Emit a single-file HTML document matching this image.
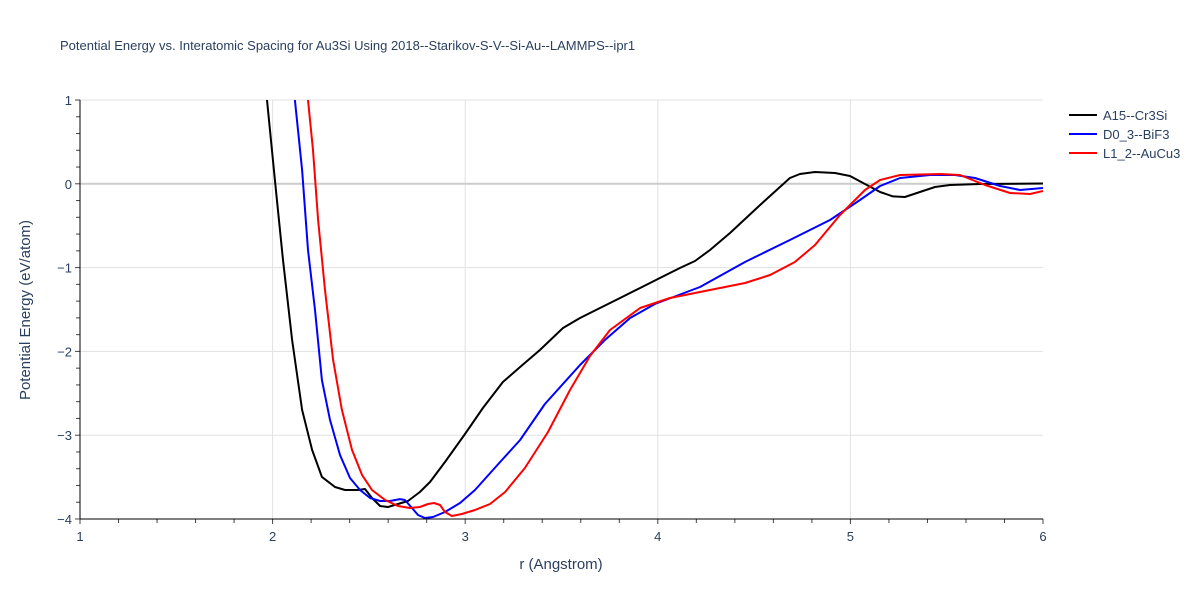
<!DOCTYPE html>
<html><head><meta charset="utf-8">
<style>
body{margin:0;background:#fff;font-family:"Liberation Sans",sans-serif;}
svg text{font-family:"Liberation Sans",sans-serif;}
</style></head>
<body>
<svg id="chart" width="1200" height="600" xmlns="http://www.w3.org/2000/svg">
<rect width="1200" height="600" fill="#fff"/>
<text x="60" y="50" font-size="13" fill="#2a3f5f">Potential Energy vs. Interatomic Spacing for Au3Si Using 2018--Starikov-S-V--Si-Au--LAMMPS--ipr1</text>
<defs><clipPath id="clip"><rect x="80" y="100" width="963" height="419"/></clipPath></defs>
<g id="grid"></g>
<g id="series" clip-path="url(#clip)"></g>
<g id="axes"></g>
<text x="561" y="569" font-size="15" fill="#2a3f5f" text-anchor="middle">r (Angstrom)</text>
<text transform="translate(30,310) rotate(-90)" font-size="15" fill="#2a3f5f" text-anchor="middle">Potential Energy (eV/atom)</text>
<g id="legend"></g>
</svg>
<script>
const xTicks=[1,2,3,4,5,6];
const yTicks=[1,0,-1,-2,-3,-4];
const seriesNames=["A15--Cr3Si","D0_3--BiF3","L1_2--AuCu3"];
const seriesColors=["#000000","#0000ff","#ff0000"];
const blackR=[1.971,2.012,2.054,2.101,2.153,2.205,2.256,2.324,2.376,2.443,2.480,2.516,2.558,2.599,2.651,2.703,2.765,2.817,2.895,2.999,3.092,3.196,3.285,3.388,3.508,3.596,3.700,3.804,3.908,4.011,4.115,4.193,4.271,4.375,4.531,4.686,4.738,4.816,4.920,4.998,5.076,5.154,5.221,5.283,5.361,5.439,5.517,5.673,6.0];
const blackE=[1.0,0.045,-0.909,-1.863,-2.698,-3.176,-3.498,-3.618,-3.654,-3.654,-3.642,-3.749,-3.845,-3.857,-3.821,-3.785,-3.678,-3.559,-3.320,-2.986,-2.676,-2.365,-2.186,-1.983,-1.721,-1.601,-1.482,-1.363,-1.243,-1.124,-1.005,-0.921,-0.790,-0.587,-0.253,0.069,0.117,0.141,0.129,0.093,-0.002,-0.098,-0.150,-0.158,-0.098,-0.038,-0.014,-0.002,0.004];
const blueR=[2.116,2.153,2.184,2.220,2.256,2.298,2.350,2.402,2.454,2.506,2.558,2.610,2.661,2.687,2.724,2.755,2.791,2.833,2.895,2.973,3.051,3.181,3.285,3.414,3.596,3.726,3.856,3.985,4.219,4.453,4.686,4.894,5.050,5.154,5.258,5.413,5.543,5.647,5.777,5.881,6.0];
const blueE=[1.0,0.165,-0.790,-1.506,-2.341,-2.818,-3.236,-3.511,-3.654,-3.749,-3.785,-3.785,-3.762,-3.773,-3.869,-3.952,-3.988,-3.976,-3.917,-3.809,-3.654,-3.320,-3.057,-2.628,-2.162,-1.863,-1.601,-1.434,-1.231,-0.933,-0.671,-0.432,-0.193,-0.026,0.069,0.105,0.105,0.069,-0.026,-0.074,-0.050];
const redR=[2.184,2.210,2.236,2.272,2.314,2.360,2.412,2.464,2.516,2.584,2.651,2.713,2.765,2.807,2.838,2.869,2.895,2.931,2.983,3.051,3.129,3.207,3.310,3.430,3.544,3.648,3.752,3.908,4.063,4.245,4.453,4.583,4.712,4.816,4.946,5.076,5.154,5.258,5.465,5.569,5.699,5.829,5.933,6.0];
const redE=[1.0,0.403,-0.432,-1.267,-2.102,-2.698,-3.176,-3.474,-3.654,-3.773,-3.845,-3.869,-3.857,-3.821,-3.809,-3.833,-3.917,-3.964,-3.940,-3.893,-3.821,-3.678,-3.392,-2.962,-2.461,-2.055,-1.745,-1.482,-1.363,-1.279,-1.184,-1.088,-0.933,-0.730,-0.372,-0.074,0.045,0.105,0.117,0.105,-0.014,-0.110,-0.122,-0.086];

const NS="http://www.w3.org/2000/svg";
const X0=80,X1=1043,Y0=519,Y1=100,RMIN=1,RMAX=6,EMIN=-4,EMAX=1;
function xs(r){return X0+(r-RMIN)/(RMAX-RMIN)*(X1-X0);}
function ys(e){return Y0-(e-EMIN)/(EMAX-EMIN)*(Y0-Y1);}
function mk(tag,attrs,parent){const el=document.createElementNS(NS,tag);for(const k in attrs)el.setAttribute(k,attrs[k]);parent.appendChild(el);return el;}
const grid=document.getElementById('grid'),axes=document.getElementById('axes'),ser=document.getElementById('series'),leg=document.getElementById('legend');
xTicks.forEach(t=>{
  if(t>RMIN&&t<RMAX){const l=mk('line',{x1:xs(t),x2:xs(t),y1:Y1,y2:Y0,stroke:'#e1e1e1','stroke-width':1},grid);
  
  }
  const tx=mk('text',{x:xs(t),y:541,'font-size':13,fill:'#2a3f5f','text-anchor':'middle'},axes);tx.textContent=t;
  
  
});
yTicks.forEach(t=>{
  const l=mk('line',{x1:X0,x2:X1,y1:ys(t),y2:ys(t),stroke:t===0?'#cccccc':'#e1e1e1','stroke-width':t===0?2:1},grid);
  
  
  const tx=mk('text',{x:72,y:ys(t)+5,'font-size':13,fill:'#2a3f5f','text-anchor':'end'},axes);tx.textContent=t===0?'0':(t<0?'\u2212'+(-t):t);
  
  
});
for(let i=0;i<=25;i++){const r=RMIN+i*0.2;mk('line',{x1:xs(r),x2:xs(r),y1:Y0,y2:Y0+(i%5===0?5:4),stroke:'#444','stroke-width':1},axes);}
for(let i=0;i<=25;i++){const e=EMIN+i*0.2;mk('line',{x1:X0-(i%5===0?5:4),x2:X0,y1:ys(e),y2:ys(e),stroke:'#444','stroke-width':1},axes);}
const xa=mk('line',{x1:X0,x2:X1,y1:Y0,y2:Y0,stroke:'#000','stroke-width':1},axes);


const ya=mk('line',{x1:X0,x2:X0,y1:Y1,y2:Y0,stroke:'#000','stroke-width':1},axes);


const allR=[blackR,blueR,redR],allE=[blackE,blueE,redE];
allR.forEach((R,i)=>{
  const d=R.map((r,j)=>(j?'L':'M')+xs(r).toFixed(1)+','+ys(allE[i][j]).toFixed(1)).join(' ');
  const p=mk('path',{d:d,fill:'none',stroke:seriesColors[i],'stroke-width':2,'stroke-linejoin':'round'},ser);
  
  
  const ly=115+i*19;
  const g=mk('g',{},leg);
  
  
  mk('line',{x1:1069,x2:1097,y1:ly,y2:ly,stroke:seriesColors[i],'stroke-width':2},g);
  const t=mk('text',{x:1103,y:ly+5,'font-size':13,fill:'#2a3f5f'},g);t.textContent=seriesNames[i];
});
</script>
</body></html>
